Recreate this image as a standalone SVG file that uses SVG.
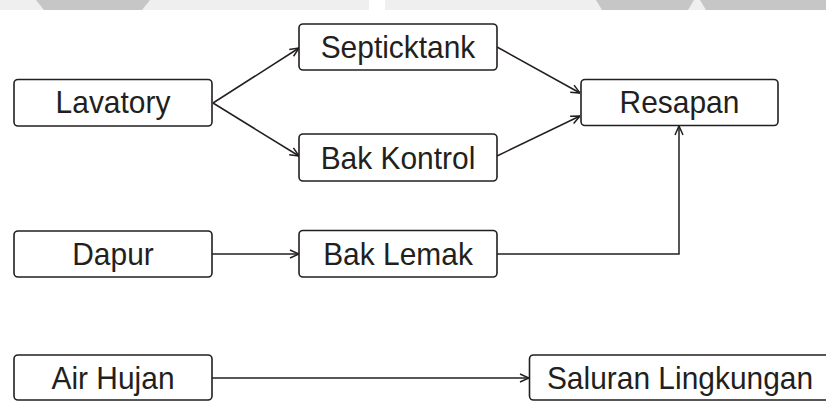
<svg xmlns="http://www.w3.org/2000/svg" width="826" height="401" viewBox="0 0 826 401">
  <style>
    .box { fill: #ffffff; stroke: #231f20; stroke-width: 1.6; }
    .lbl { font-family: "Liberation Sans", Arial, sans-serif; font-size: 31.5px; fill: #231f20; text-anchor: middle; }
    .edge { fill: none; stroke: #231f20; stroke-width: 1.5; }
    .wm-light { fill: #efefef; }
    .wm-dark { fill: #c6c6c6; }
  </style>
  <defs>
    <marker id="arr" viewBox="0 0 10 10" refX="10" refY="5" markerWidth="10" markerHeight="10" markerUnits="userSpaceOnUse" orient="auto">
      <path d="M1,1 L10,5 L1,9" fill="none" stroke="#231f20" stroke-width="1.5"/>
    </marker>
  </defs>
  <rect width="826" height="401" fill="#ffffff"/>
  <g id="watermark">
    <rect class="wm-light" x="0" y="0" width="369" height="10"/>
    <rect class="wm-light" x="385" y="0" width="441" height="10"/>
    <polygon class="wm-dark" points="36,0 150,0 142,10 44,10"/>
    <polygon class="wm-dark" points="596,0 694,0 688,10 602,10"/>
    <polygon class="wm-dark" points="700,0 826,0 826,10 706,10"/>
  </g>
  <g id="connectors">
    <line class="edge" x1="213" y1="103" x2="299" y2="48" marker-end="url(#arr)"/>
    <line class="edge" x1="213" y1="103" x2="299" y2="156" marker-end="url(#arr)"/>
    <line class="edge" x1="497" y1="47" x2="580" y2="93" marker-end="url(#arr)"/>
    <line class="edge" x1="497" y1="156" x2="580" y2="116" marker-end="url(#arr)"/>
    <line class="edge" x1="212" y1="254" x2="299" y2="254" marker-end="url(#arr)"/>
    <polyline class="edge" points="497,254 679,254 679,126" marker-end="url(#arr)"/>
    <line class="edge" x1="212" y1="378" x2="529" y2="378" marker-end="url(#arr)"/>
  </g>
  <g id="lavatory">
    <rect class="box" x="14" y="79.5" width="198" height="46.5" rx="4"/>
    <text class="lbl" transform="translate(113,113) scale(0.95,1)">Lavatory</text>
  </g>
  <g id="septicktank">
    <rect class="box" x="299" y="24" width="198" height="46" rx="4"/>
    <text class="lbl" transform="translate(398,58) scale(0.95,1)">Septicktank</text>
  </g>
  <g id="bak-kontrol">
    <rect class="box" x="299" y="134" width="198" height="47" rx="4"/>
    <text class="lbl" transform="translate(398,168.5) scale(0.95,1)">Bak Kontrol</text>
  </g>
  <g id="resapan">
    <rect class="box" x="581" y="79.5" width="197" height="46" rx="4"/>
    <text class="lbl" transform="translate(679.5,113) scale(0.95,1)">Resapan</text>
  </g>
  <g id="dapur">
    <rect class="box" x="14" y="231" width="198" height="46" rx="4"/>
    <text class="lbl" transform="translate(113,265) scale(0.95,1)">Dapur</text>
  </g>
  <g id="bak-lemak">
    <rect class="box" x="299" y="230.5" width="198" height="46.5" rx="4"/>
    <text class="lbl" transform="translate(398,265) scale(0.95,1)">Bak Lemak</text>
  </g>
  <g id="air-hujan">
    <rect class="box" x="14" y="355" width="198" height="45" rx="4"/>
    <text class="lbl" transform="translate(113,389) scale(0.95,1)">Air Hujan</text>
  </g>
  <g id="saluran-lingkungan">
    <rect class="box" x="529.5" y="355" width="310" height="45" rx="4"/>
    <text class="lbl" transform="translate(680,389) scale(0.95,1)">Saluran Lingkungan</text>
  </g>
</svg>
